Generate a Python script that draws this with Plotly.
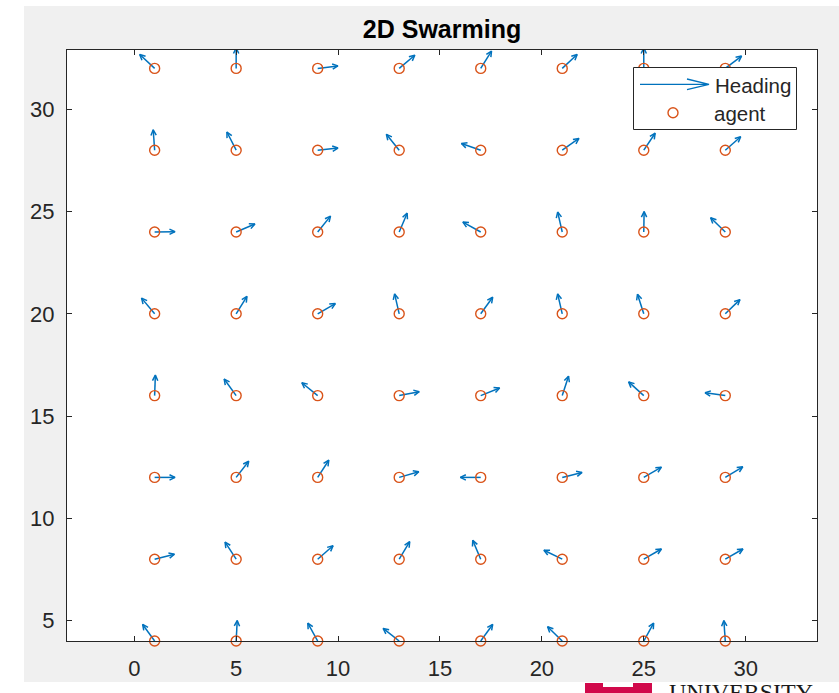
import numpy as np
import plotly.graph_objects as go
import plotly.figure_factory as ff

# ---- data -------------------------------------------------------------
agent_x = [1, 5, 9, 13, 17, 21, 25, 29]
agent_y = [4, 8, 12, 16, 20, 24, 28, 32]

# heading angle (degrees, counter-clockwise from +x) for each agent, one list per row
heading_y4 = [126, 87, 119, 142, 54, 136, 61, 94]
heading_y8 = [14, 123, 41, 59, 113, 154, 30, 30]
heading_y12 = [0, 52, 57, 16, 180, 14, 30, 31]
heading_y16 = [88, 126, 141, 11, 22, 72, 138, 172]
heading_y20 = [130, 58, 30, 103, 54, 103, 108, 44]
heading_y24 = [1, 23, 51, 67, 151, 103, 89, 136]
heading_y28 = [94, 117, 6, 129, 161, 35, 56, 41]
heading_y32 = [137, 90, 7, 40, 58, 43, 90, 37]

arrow_length = 1.0

x_ticks = [0, 5, 10, 15, 20, 25, 30]
y_ticks = [5, 10, 15, 20, 25, 30]

legend_labels = ['Heading', 'agent']

# ---- build vectors ----------------------------------------------------
rows = [heading_y4, heading_y8, heading_y12, heading_y16,
        heading_y20, heading_y24, heading_y28, heading_y32]
X, Y, U, V = [], [], [], []
for yv, row in zip(agent_y, rows):
    for xv, h in zip(agent_x, row):
        X.append(xv)
        Y.append(yv)
        U.append(arrow_length * np.cos(np.radians(h)))
        V.append(arrow_length * np.sin(np.radians(h)))

BLUE = '#0072BD'
ORANGE = '#D95319'

fig = ff.create_quiver(X, Y, U, V, scale=1, arrow_scale=0.3, angle=np.pi / 7,
                       name=legend_labels[0],
                       line=dict(color=BLUE, width=1.5))
fig.data[0].showlegend = False
fig.add_trace(go.Scatter(
    x=X, y=Y, mode='markers', name=legend_labels[1], cliponaxis=False,
    showlegend=False,
    marker=dict(symbol='circle-open', size=10, color=ORANGE,
                line=dict(width=1.4, color=ORANGE)),
))

# ---- layout -----------------------------------------------------------
L, T, W, H = 67, 50, 750, 591


def px(p):
    return (p - L) / W


def py(p):
    return (T + H - p) / H


font = 'Liberation Sans, Arial, sans-serif'
axis_common = dict(
    showgrid=False, zeroline=False, showline=True, linecolor='#262626',
    linewidth=1, mirror='ticks', ticks='inside', ticklen=5,
    tickcolor='#262626', tickwidth=1,
    tickfont=dict(family=font, size=22, color='#262626'),
)

# manual MATLAB-style legend box (decoration)
lg_l, lg_r, lg_t, lg_b = 633.5, 796.5, 67.5, 129.5
line_y = 84.3
legend_arrow_path = (
    f'M {px(640)},{py(line_y)} L {px(709)},{py(line_y)} '
    f'M {px(687)},{py(line_y - 5.3)} L {px(709)},{py(line_y)} '
    f'L {px(687)},{py(line_y + 5.3)}'
)

shapes = [
    # page margins outside the MATLAB figure
    dict(type='rect', xref='paper', yref='paper', x0=px(-5), x1=px(24),
         y0=py(700), y1=py(-5), fillcolor='white', line=dict(width=0)),
    dict(type='rect', xref='paper', yref='paper', x0=px(-5), x1=px(845),
         y0=py(6), y1=py(-5), fillcolor='white', line=dict(width=0)),
    dict(type='rect', xref='paper', yref='paper', x0=px(-5), x1=px(845),
         y0=py(700), y1=py(682), fillcolor='white', line=dict(width=0)),
    # logo fragment
    dict(type='rect', xref='paper', yref='paper',
         x0=px(585), x1=px(652), y0=py(700), y1=py(683),
         fillcolor='#d1094b', line=dict(width=0)),
    dict(type='rect', xref='paper', yref='paper',
         x0=px(603), x1=px(633), y0=py(687), y1=py(683),
         fillcolor='white', line=dict(width=0)),
    # legend
    dict(type='rect', xref='paper', yref='paper', layer='above',
         x0=px(lg_l), x1=px(lg_r), y0=py(lg_b), y1=py(lg_t),
         fillcolor='white', line=dict(color='#262626', width=1)),
    dict(type='path', xref='paper', yref='paper', layer='above',
         path=legend_arrow_path, line=dict(color=BLUE, width=1.3)),
    dict(type='circle', xref='paper', yref='paper', layer='above',
         x0=px(668), x1=px(678), y0=py(117.7), y1=py(107.7),
         line=dict(color=ORANGE, width=1.4)),
]

annotations = [
    dict(text=legend_labels[0], xref='paper', yref='paper',
         x=px(712.5), y=py(86), xanchor='left', yanchor='middle',
         showarrow=False, font=dict(family=font, size=20.5, color='#262626')),
    dict(text=legend_labels[1], xref='paper', yref='paper',
         x=px(712), y=py(114), xanchor='left', yanchor='middle',
         showarrow=False, font=dict(family=font, size=20.5, color='#262626')),
    dict(text='UNIVERSITY', xref='paper', yref='paper',
         x=px(667), y=py(677), xanchor='left', yanchor='top',
         showarrow=False,
         font=dict(family='Liberation Serif, serif', size=24, color='#1a1a1a')),
]

fig.update_layout(
    width=839, height=693,
    margin=dict(l=L, r=839 - L - W, t=T, b=693 - T - H, pad=0),
    paper_bgcolor='#f0f0f0', plot_bgcolor='white',
    title=dict(text='<b>2D Swarming</b>', x=0.5, xref='paper',
               y=1 - 29 / 693, yref='container', yanchor='middle',
               font=dict(family=font, size=25, color='black')),
    xaxis=dict(range=[-3.3, 33.5], tickvals=x_ticks, ticklabelstandoff=8,
               **axis_common),
    yaxis=dict(range=[4.0, 32.9], tickvals=y_ticks, ticklabelstandoff=7,
               **axis_common),
    showlegend=False,
    hovermode='closest',
    shapes=shapes,
    annotations=annotations,
)

fig.write_html('out.html')
